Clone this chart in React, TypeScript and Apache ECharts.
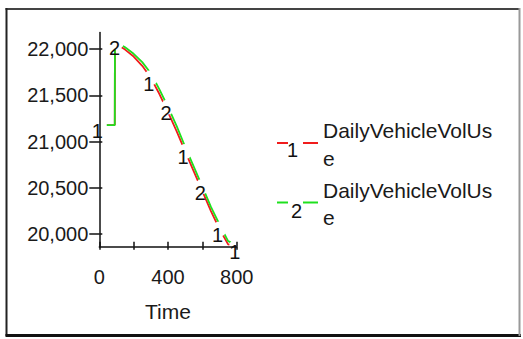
import React, { useEffect, useRef } from "react";
import * as echarts from "echarts";

const times = [0, 90, 91, 100, 150, 200, 250, 300, 350, 400, 450, 500, 550, 600, 650, 700, 750, 800];
const run1 = [21180, 21180, 22060, 22055, 21995, 21920, 21820, 21690, 21515, 21320, 21115, 20895, 20680, 20465, 20250, 20055, 19890, 19870];
const run2 = [21180, 21180, 22080, 22075, 22020, 21950, 21860, 21740, 21565, 21375, 21170, 20945, 20730, 20515, 20295, 20105, 19925, 19885];
const run1MarkerTimes = [0, 300, 500, 700, 800];
const run2MarkerTimes = [100, 400, 600];
const xTicks = [0, 200, 400, 600, 800];
const xTickLabels = [0, 400, 800];
const yTicks = [20000, 20500, 21000, 21500, 22000];
const seriesName = "DailyVehicleVolUse";
const runLabels = ["1", "2"];

const RED = "#f01c1c";
const GREEN = "#1ee01e";
const FONT = "Liberation Sans, Arial, sans-serif";

function pairs(vals: number[]) {
  return times.map((t, i) => [t, vals[i]]);
}
function markers(mt: number[], vals: number[]) {
  return mt.map((t) => [t, vals[times.indexOf(t)]]);
}

export default function App() {
  const ref = useRef<HTMLDivElement>(null);
  useEffect(() => {
    const chart = echarts.init(ref.current!, undefined, { renderer: "svg" });
    const gridLeft = 99.3;
    const gridW = 137.4;
    const gridTop = 32.5;
    const gridH = 214.2;
    const markerSeries = (name: string, mt: number[], vals: number[], lbl: string) => ({
      name: name,
      type: "scatter",
      data: markers(mt, vals),
      symbol: "circle",
      symbolSize: 15,
      itemStyle: { color: "#fff", opacity: 1 },
      z: 4,
      silent: true,
      clip: false,
      label: {
        show: true,
        formatter: lbl,
        position: "inside",
        offset: [-2, 6],
        fontSize: 20,
        fontFamily: FONT,
        color: "#111",
      },
    });
    const legendItem = (y: number, color: string, lbl: string, numX: number, numY: number) => ({
      type: "group",
      children: [
        { type: "line", shape: { x1: 277, y1: y, x2: 288, y2: y }, style: { stroke: color, lineWidth: 2 } },
        { type: "line", shape: { x1: 303, y1: y, x2: 318, y2: y }, style: { stroke: color, lineWidth: 2 } },
        {
          type: "text",
          x: numX,
          y: numY,
          style: { text: lbl, font: `20px ${FONT}`, fill: "#111", align: "center", verticalAlign: "middle" },
        },
        {
          type: "text",
          x: 323,
          y: y - 26,
          style: {
            text: seriesName.slice(0, 17) + "\n" + seriesName.slice(17),
            font: `21px ${FONT}`,
            lineHeight: 27.5,
            fill: "#1a1a1a",
            align: "left",
            verticalAlign: "top",
          },
        },
      ],
    });
    chart.setOption({
      animation: false,
      backgroundColor: "#fff",
      grid: { left: gridLeft, top: gridTop, width: gridW, height: gridH, containLabel: false },
      xAxis: [
        {
          type: "value",
          min: 0,
          max: 800,
          interval: 200,
          z: 10,
          name: "Time",
          nameLocation: "middle",
          nameGap: 54,
          nameTextStyle: { fontSize: 21, fontFamily: FONT, color: "#1a1a1a" },
          axisLine: { show: true, onZero: false, lineStyle: { color: "#111", width: 1.5 } },
          axisTick: { show: true, inside: true, length: 5, lineStyle: { color: "#111", width: 1.5 }, customValues: xTicks },
          axisLabel: {
            show: true,
            margin: 20,
            fontSize: 20,
            fontFamily: FONT,
            color: "#1a1a1a",
            customValues: xTickLabels,
            formatter: (v: number) => String(v),
          },
          splitLine: { show: false },
        },
        {
          type: "value",
          min: 0,
          max: 800,
          interval: 200,
          position: "bottom",
          offset: 0,
          z: 10,
          axisLine: { show: false, onZero: false },
          axisTick: { show: true, inside: false, length: 3, lineStyle: { color: "#111", width: 1.5 }, customValues: xTicks },
          axisLabel: { show: false },
          splitLine: { show: false },
        },
      ],
      yAxis: [
        {
          type: "value",
          min: 19865,
          max: 22180,
          z: 10,
          axisLine: { show: true, onZero: false, lineStyle: { color: "#111", width: 1.5 } },
          axisTick: { show: true, inside: false, length: 10, lineStyle: { color: "#111", width: 1.5 }, customValues: yTicks },
          axisLabel: {
            show: true,
            margin: 11,
            fontSize: 20,
            fontFamily: FONT,
            color: "#1a1a1a",
            customValues: yTicks,
            formatter: (v: number) => v.toLocaleString("en-US"),
          },
          splitLine: { show: false },
        },
        {
          type: "value",
          min: 19865,
          max: 22180,
          position: "left",
          offset: 0,
          z: 10,
          axisLine: { show: false, onZero: false },
          axisTick: { show: true, inside: true, length: 3, lineStyle: { color: "#111", width: 1.5 }, customValues: yTicks },
          axisLabel: { show: false },
          splitLine: { show: false },
        },
      ],
      series: [
        {
          name: seriesName + " 1",
          type: "line",
          data: pairs(run1),
          showSymbol: false,
          lineStyle: { color: RED, width: 1.8 },
          itemStyle: { color: RED },
          z: 2,
        },
        {
          name: seriesName + " 2",
          type: "line",
          data: pairs(run2),
          showSymbol: false,
          lineStyle: { color: GREEN, width: 1.8 },
          itemStyle: { color: GREEN },
          z: 3,
        },
        markerSeries("run1 markers", run1MarkerTimes, run1, runLabels[0]),
        markerSeries("run2 markers", run2MarkerTimes, run2, runLabels[1]),
      ],
      graphic: [
        { type: "line", shape: { x1: 5.5, y1: 9, x2: 520, y2: 9 }, style: { stroke: "#444", lineWidth: 2 } },
        { type: "line", shape: { x1: 6.5, y1: 8, x2: 6.5, y2: 336 }, style: { stroke: "#222", lineWidth: 2 } },
        { type: "line", shape: { x1: 5.5, y1: 335.5, x2: 521, y2: 335.5 }, style: { stroke: "#111", lineWidth: 3 } },
        { type: "line", shape: { x1: 519.5, y1: 8, x2: 519.5, y2: 336 }, style: { stroke: "#999", lineWidth: 2 } },
        legendItem(143, RED, runLabels[0], 292.5, 149.5),
        legendItem(202.5, GREEN, runLabels[1], 296.5, 210.5),
      ],
    });
    return () => chart.dispose();
  }, []);
  return <div ref={ref} style={{ position: "fixed", left: 0, top: 0, width: 523, height: 339 }} />;
}
